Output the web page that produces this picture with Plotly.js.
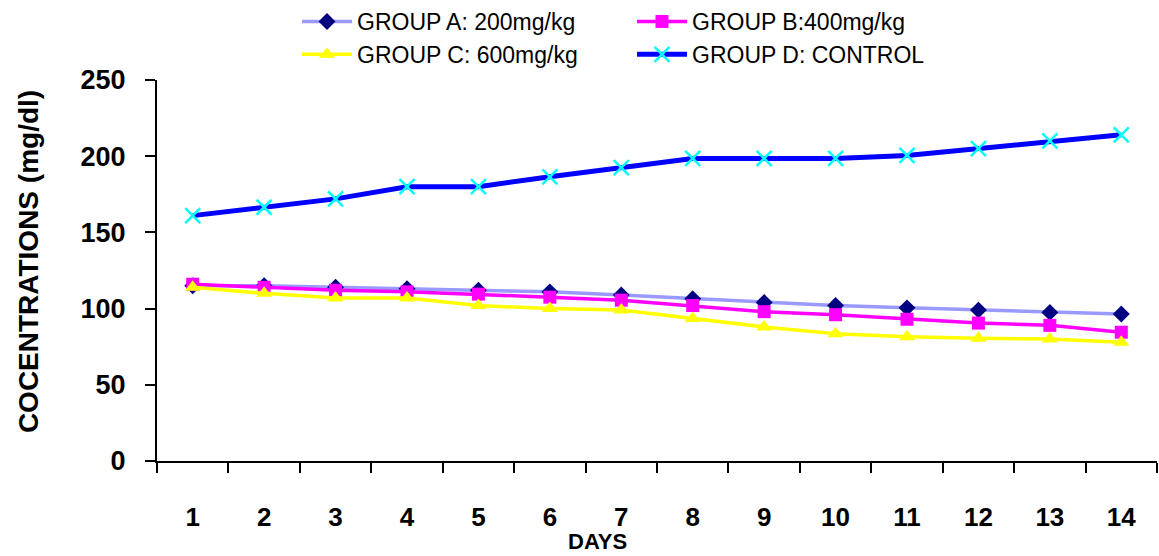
<!DOCTYPE html>
<html>
<head>
<meta charset="utf-8">
<script src="https://cdn.plot.ly/plotly-3.0.1.min.js"></script>
<style>html,body{margin:0;padding:0;background:#fff;}#chart{width:1159px;height:556px;}</style>
</head>
<body>
<div id="chart"></div>
<script>
const days = ["1","2","3","4","5","6","7","8","9","10","11","12","13","14"];
const groupA = [115, 115, 114, 113, 112, 111, 109, 106.5, 104, 102, 100.5, 99, 97.5, 96.5];
const groupB = [116, 114, 112, 111, 109.5, 107.5, 105.5, 102, 98, 96, 93, 90.5, 89, 84.5];
const groupC = [114, 110, 107, 107, 102, 100, 99, 93.5, 88, 83.5, 81.5, 80.5, 80, 78];
const groupD = [161, 166.5, 172, 180, 180, 186.5, 192.5, 198.5, 198.5, 198.5, 200.5, 205, 210, 214];
const names = ["GROUP A: 200mg/kg", "GROUP B:400mg/kg", "GROUP C: 600mg/kg", "GROUP D: CONTROL"];
const yTicks = [0, 50, 100, 150, 200, 250];

const FONT = "Arial, 'Liberation Sans', sans-serif";

const traces = [
  {x: days, y: groupA, name: names[0], mode: "lines+markers",
   line: {color: "#9999FF", width: 3.5},
   marker: {symbol: "diamond", size: 13, color: "#000080"}},
  {x: days, y: groupB, name: names[1], mode: "lines+markers",
   line: {color: "#FF00FF", width: 3.5},
   marker: {symbol: "square", size: 13, color: "#FF00FF"}},
  {x: days, y: groupC, name: names[2], mode: "lines+markers",
   line: {color: "#FFFF00", width: 3.5},
   marker: {symbol: "triangle-up", size: 14, color: "#FFFF00"}},
  {x: days, y: groupD, name: names[3], mode: "lines+markers",
   line: {color: "#0000FF", width: 5},
   marker: {symbol: "x-thin", size: 15, color: "#00FFFF", line: {color: "#00FFFF", width: 2.5}}}
];

const layout = {
  width: 1159, height: 556,
  margin: {l: 157, r: 2, t: 80, b: 95, autoexpand: false},
  paper_bgcolor: "#fff", plot_bgcolor: "#fff",
  font: {family: FONT, color: "#000"},
  showlegend: true,
  legend: {
    orientation: "h", x: 0.14, xanchor: "left", y: 1.21, yanchor: "top",
    font: {family: FONT, size: 23, color: "#000"},
    entrywidth: 270, entrywidthmode: "pixels",
    itemwidth: 50, bgcolor: "rgba(255,255,255,0)", traceorder: "normal"
  },
  xaxis: {
    type: "category", range: [-0.5, 13.5],
    showline: true, linecolor: "#000", linewidth: 2,
    ticks: "outside", ticklen: 10, tickwidth: 2, tickcolor: "#000",
    tickson: "boundaries", showgrid: false, zeroline: false,
    tickfont: {family: FONT, size: 26, color: "#000", weight: "bold"},
    ticklabelstandoff: 32
  },
  yaxis: {
    range: [0, 250], tickvals: yTicks, ticktext: yTicks.map(String),
    showline: true, linecolor: "#000", linewidth: 2,
    ticks: "outside", ticklen: 10, tickwidth: 2, tickcolor: "#000",
    showgrid: false, zeroline: false,
    tickfont: {family: FONT, size: 27, color: "#000", weight: "bold"},
    ticklabelstandoff: 14
  },
  annotations: [
    {text: "COCENTRATIONS (mg/dl)", xref: "paper", yref: "paper", x: -0.129, y: 0.522,
     textangle: -90, showarrow: false, xanchor: "center", yanchor: "middle",
     font: {family: FONT, size: 28, color: "#000", weight: "bold"}},
    {text: "DAYS", xref: "paper", yref: "paper", x: 0.44, y: -0.21,
     showarrow: false, xanchor: "center", yanchor: "middle",
     font: {family: FONT, size: 22, color: "#000", weight: "bold"}}
  ]
};

Plotly.newPlot("chart", traces, layout, {displayModeBar: false, staticPlot: true});
</script>
</body>
</html>
